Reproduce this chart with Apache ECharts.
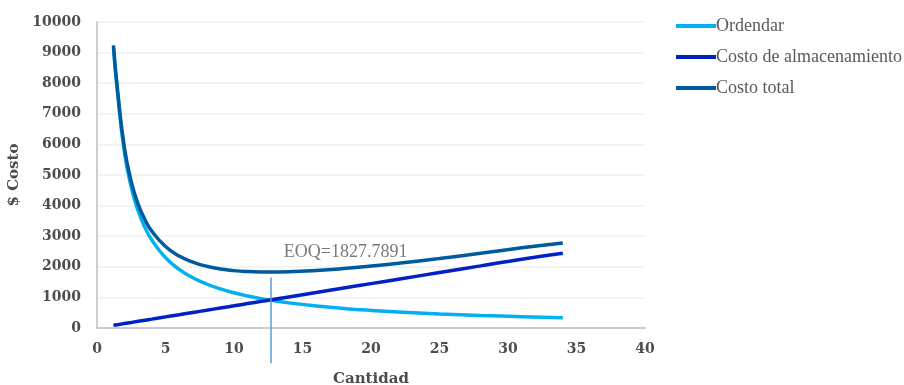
<!DOCTYPE html>
<html><head><meta charset="utf-8">
<script src="https://cdn.jsdelivr.net/npm/echarts@6/dist/echarts.min.js"></script>
<style>html,body{margin:0;padding:0;background:#fff}#c{width:904px;height:385px}</style>
</head><body><div id="c"></div>
<script>
const cantidad = [1.2, 1.5, 2, 2.5, 3, 3.5, 4, 5, 6, 7, 8, 9, 10, 11, 12, 12.6, 14, 16, 18, 20, 22, 25, 28, 31, 34];
const ordenar = [9150, 7667, 5750, 4600, 3833, 3286, 2875, 2300, 1917, 1643, 1438, 1278, 1150, 1045, 958, 913, 821, 719, 639, 575, 523, 460, 411, 371, 338];
const almacenamiento = [87, 109, 145, 181, 218, 254, 290, 363, 435, 508, 580, 653, 725, 798, 870, 913, 1015, 1160, 1305, 1450, 1595, 1813, 2030, 2248, 2440];
const costoTotal = [9237, 7776, 5895, 4781, 4051, 3540, 3165, 2663, 2352, 2151, 2018, 1931, 1875, 1843, 1828, 1826, 1836, 1879, 1944, 2025, 2118, 2273, 2441, 2619, 2778];
const eoqX = 12.7;
const eoqLine = [1650, -1150];
const eoqLabelPos = [18.15, 2480];
const eoqText = 'EOQ=1827.7891';
const seriesNames = ['Ordendar', 'Costo de almacenamiento', 'Costo total'];
const colors = ['#00B0F0', '#0021C4', '#005A9E'];

const zip = (xs, ys) => xs.map((x, i) => [x, ys[i]]);
const chart = echarts.init(document.getElementById('c'));
const tickFont = {fontFamily: 'DejaVu Serif', fontWeight: 'bold', fontSize: 14, color: '#4D4D4D'};
chart.setOption({
  animation: false,
  grid: {left: 97, right: 259, top: 22, bottom: 57, containLabel: false, outerBoundsMode: 'none'},
  legend: {
    orient: 'vertical', left: 671, top: 12, itemWidth: 40, itemHeight: 4, itemGap: 13,
    icon: 'rect',
    data: seriesNames,
    textStyle: {fontFamily: 'Liberation Serif', fontSize: 18, color: '#595959', padding: [0,0,0,-5]}
  },
  xAxis: {
    type: 'value', min: 0, max: 40, interval: 5,
    name: 'Cantidad', nameLocation: 'middle', nameGap: 44,
    nameTextStyle: {fontFamily: 'DejaVu Serif', fontWeight: 'bold', fontSize: 15, color: '#4D4D4D'},
    axisLine: {show: true, lineStyle: {color: '#BFBFBF', width: 1.5}},
    axisTick: {show: false},
    splitLine: {show: false},
    axisLabel: Object.assign({margin: 14, formatter: v => String(v)}, tickFont)
  },
  yAxis: {
    type: 'value', min: 0, max: 10000, interval: 1000,
    name: '$ Costo', nameLocation: 'middle', nameGap: 70, nameRotate: 90,
    nameTextStyle: {fontFamily: 'DejaVu Serif', fontWeight: 'bold', fontSize: 15, color: '#4D4D4D'},
    axisLine: {show: true, lineStyle: {color: '#BFBFBF', width: 1.5}},
    axisTick: {show: false},
    splitLine: {show: true, lineStyle: {color: '#EFEFEF', width: 1.5}},
    axisLabel: Object.assign({margin: 16, formatter: v => String(v)}, tickFont)
  },
  series: [
    {name: seriesNames[0], type: 'line', smooth: true, showSymbol: false, data: zip(cantidad, ordenar), lineStyle: {color: colors[0], width: 3.5}, itemStyle: {color: colors[0]}, z: 3},
    {name: seriesNames[1], type: 'line', smooth: true, showSymbol: false, data: zip(cantidad, almacenamiento), lineStyle: {color: colors[1], width: 3.5}, itemStyle: {color: colors[1]}, z: 4},
    {name: seriesNames[2], type: 'line', smooth: true, showSymbol: false, data: zip(cantidad, costoTotal), lineStyle: {color: colors[2], width: 3.5}, itemStyle: {color: colors[2]}, z: 5},
    {name: 'EOQ', type: 'line', showSymbol: false, clip: false, data: eoqLine.map(v => [eoqX, v]), lineStyle: {color: '#5B9BD5', width: 1.5}, z: 6, silent: true},
    {name: 'EOQlabel', type: 'scatter', symbolSize: 0, data: [eoqLabelPos], silent: true,
      label: {show: true, position: 'inside', formatter: eoqText, fontFamily: 'Liberation Serif', fontSize: 18, color: '#595959'}}
  ]
});
</script></body></html>
